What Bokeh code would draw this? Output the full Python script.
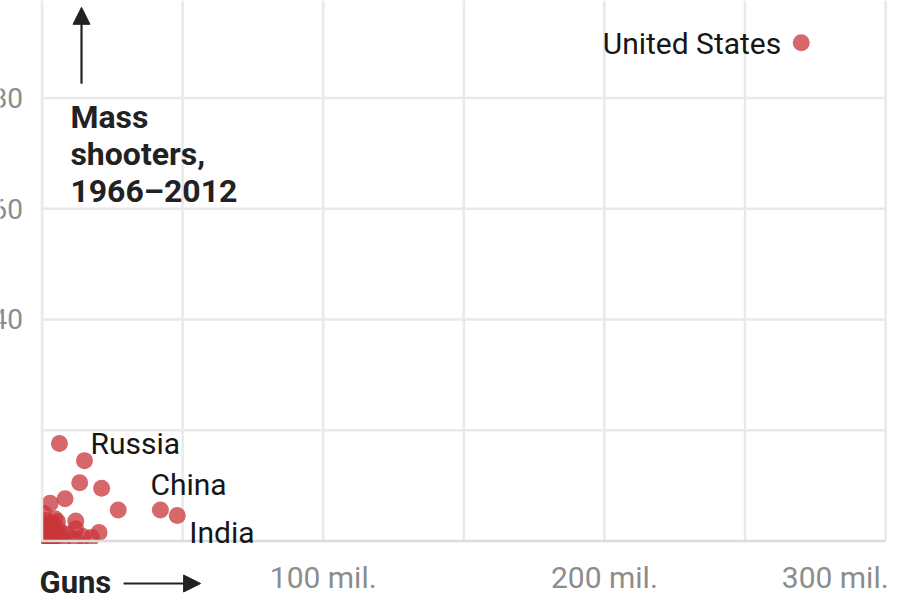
from bokeh.plotting import figure
from bokeh.models import Range1d, Arrow, NormalHead
from bokeh.core.properties import value
from bokeh.embed import file_html
from bokeh.resources import INLINE

# ---- data (guns in millions, mass shooters 1966-2012) ----
countries = ["United States", "Russia", "", "", "", "", "", "", "China", "India",
             "", "", "", "", "", "", "", "", "", "", "", "", "", "", "", "", "", "", "",
             "", "", "", "", "", "", "", ""]
guns = [270.0, 15.1, 6.2, 13.4, 21.2, 8.2, 2.9, 27.1, 42.1, 48.1,
        12.0, 4.6, 1.2, 3.6, 12.0, 20.3, 17.6, 11.8, 4.7, 2.3,
        1.0, 7.5, 2.0, 6.0, 0.5, 9.0, 3.5, 0.3, 14.5,
        1.5, 4.0, 4.5, 2.5, 0.8, 5.5, 3.0, 6.5]
shooters = [90, 14.5, 17.6, 10.5, 9.5, 7.6, 6.8, 5.6, 5.6, 4.6,
            3.6, 4.0, 3.7, 3.2, 2.2, 1.5, 0.6, 0.3, 0.9, 0.9,
            0.3, 0.3, 2.2, 2.0, 5.0, 1.2, 0.2, 1.5, 0.8,
            3.0, 2.8, 1.2, 1.8, 0.8, 3.5, 0.3, 1.0]

x_ticks = [0, 50, 100, 150, 200, 250, 300]
x_label_vals = [100, 200, 300]
x_label_text = ["100 mil.", "200 mil.", "300 mil."]
y_grid = [20, 40, 60, 80]
y_label_vals = [40, 60, 80]
y_label_text = ["40", "60", "80"]
y_title_lines = ["Mass", "shooters,", "1966\u20132012"]
x_title = "Guns"

labeled = {"United States": dict(xo=-20, yo=1, align="right"),
           "Russia": dict(xo=6, yo=-17, align="left"),
           "China": dict(xo=-10, yo=-25, align="left"),
           "India": dict(xo=12, yo=17, align="left")}

# ---- figure ----
X0, X1 = -14.76, 305.3
Y0, Y1 = -10.77, 97.63
p = figure(width=900, height=600, output_backend="svg", toolbar_location=None,
           x_range=Range1d(X0, X1), y_range=Range1d(Y0, Y1), min_border=0)
p.xaxis.visible = False
p.yaxis.visible = False
p.grid.visible = False
p.outline_line_color = None
p.background_fill_color = "white"
p.border_fill_color = "white"

GRID = "#e9e9e9"
# points (drawn first, then clipped to the plotting area by white masks)
p.scatter(x=guns, y=shooters, size=17, fill_color="#c8363a", fill_alpha=0.75,
          line_color=None)
p.quad(left=[X0, X0], right=[X1, -0.25], bottom=[Y0, Y0], top=[-0.56, Y1],
       fill_color="white", line_color=None)

# gridlines
p.segment(x0=[0] * len(y_grid), x1=[300] * len(y_grid), y0=y_grid, y1=y_grid,
          line_color=GRID, line_width=2.5)
p.segment(x0=x_ticks, x1=x_ticks, y0=[0] * len(x_ticks), y1=[Y1] * len(x_ticks),
          line_color=GRID, line_width=2.5, level="underlay")
p.segment(x0=[0], x1=[0], y0=[0], y1=[Y1], line_color=GRID, line_width=2.5)
# baseline
p.segment(x0=[0], x1=[300], y0=[0], y1=[0], line_color="#dcdcdc", line_width=2.5)

FONT = value("Roboto")
# y tick labels
p.text(x=[0] * len(y_label_vals), y=y_label_vals, text=y_label_text,
       text_font=FONT, text_font_size="28px", text_color="#8c8c8c",
       text_align="right", text_baseline="alphabetic", x_offset=-19, y_offset=0)
# x tick labels
p.text(x=x_label_vals[:-1], y=[0] * (len(x_label_vals) - 1), text=x_label_text[:-1],
       text_font=FONT, text_font_size="30px", text_color="#8c8c8c",
       text_align="center", text_baseline="alphabetic", y_offset=37)
p.text(x=x_label_vals[-1:], y=[0], text=x_label_text[-1:],
       text_font=FONT, text_font_size="30px", text_color="#8c8c8c",
       text_align="right", text_baseline="alphabetic", x_offset=3, y_offset=37)

# country labels
for name, g, s in zip(countries, guns, shooters):
    if name in labeled:
        o = labeled[name]
        p.text(x=[g], y=[s], text=[name], text_font=FONT, text_font_size="30px",
               text_color="#161616", text_align=o["align"],
               text_baseline="alphabetic", x_offset=o["xo"], y_offset=o["yo"])

# axis titles
for i, line in enumerate(y_title_lines):
    p.text(x=[10.1], y=[74.7], text=[line], text_font=FONT, text_font_style="bold",
           text_font_size="32px", text_color="#222222", text_align="left",
           text_baseline="alphabetic", y_offset=37 * i - 10)
p.text(x=[0], y=[0], text=[x_title], text_font=FONT, text_font_style="bold",
       text_font_size="31px", text_color="#222222", text_align="left",
       text_baseline="alphabetic", x_offset=-2.5, y_offset=42)

# arrows
p.add_layout(Arrow(end=NormalHead(size=17, fill_color="#222222", line_color="#222222"),
                   x_start=14.05, y_start=82.6, x_end=14.05, y_end=96.4,
                   line_color="#222222", line_width=2.2))
p.add_layout(Arrow(end=NormalHead(size=17, fill_color="#222222", line_color="#222222"),
                   x_start=29.0, y_start=-7.7, x_end=56.4, y_end=-7.7,
                   line_color="#222222", line_width=2.2))

open("out.html", "w").write(file_html(p, INLINE))
